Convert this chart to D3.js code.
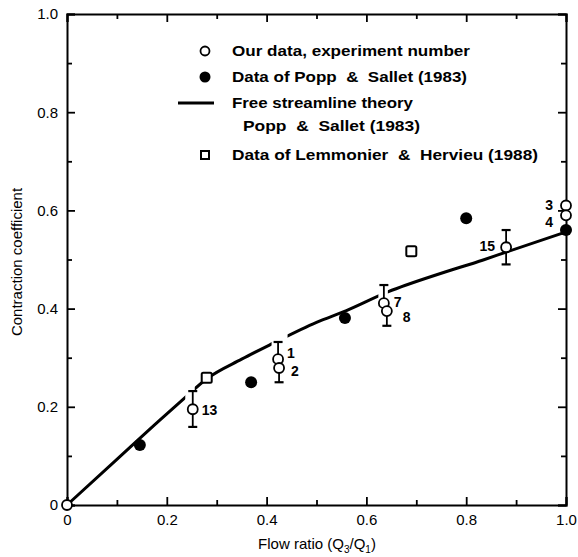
<!DOCTYPE html>
<html>
<head>
<meta charset="utf-8">
<script src="https://cdn.jsdelivr.net/npm/d3@7"></script>
<style>
  body { margin: 0; background: #fff; }
  svg { font-family: "Liberation Sans", Arial, sans-serif; }
</style>
</head>
<body>
<svg id="chart" width="578" height="557"></svg>
<script>
// free streamline theory, Popp & Sallet (1983)
const theoryCurve = [
  [0, 0], [0.1, 0.093], [0.186, 0.173], [0.236, 0.218], [0.28, 0.257],
  [0.35, 0.297], [0.41, 0.328], [0.5, 0.372], [0.56, 0.396], [0.643, 0.434],
  [0.75, 0.472], [0.834, 0.499], [0.88, 0.515], [1.0, 0.556]
];
// where the printed curve is interrupted
const curveGaps = [[0.237, 0.256], [0.41, 0.442], [0.624, 0.643]];

// our data: experiment number, flow ratio, coefficient, error bar ends
const ourLabels = ['', '13', '1', '2', '7', '8', '15', '3', '4'];
const ourX = [0, 0.252, 0.423, 0.425, 0.635, 0.641, 0.88, 1.0, 1.0];
const ourY = [0, 0.195, 0.297, 0.279, 0.411, 0.395, 0.525, 0.61, 0.59];
const ourLo = [null, 0.159, null, 0.25, null, 0.365, 0.49, null, null];
const ourHi = [null, 0.232, 0.332, null, 0.448, null, 0.56, null, null];

const poppX = [0.146, 0.369, 0.557, 0.80, 1.0];
const poppY = [0.122, 0.25, 0.381, 0.584, 0.56];

const lemX = [0.28, 0.69];
const lemY = [0.259, 0.517];

const majorTicks = [0, 0.2, 0.4, 0.6, 0.8, 1.0];
const minorTicks = [0.1, 0.3, 0.5, 0.7, 0.9];
const tickText = ['0', '0.2', '0.4', '0.6', '0.8', '1.0'];

const legendItems = [
  { mark: 'open', text: 'Our data, experiment number' },
  { mark: 'filled', text: 'Data of Popp  \u0026  Sallet (1983)' },
  { mark: 'line', text: 'Free streamline theory' },
  { mark: 'none', text: 'Popp  \u0026  Sallet (1983)' },
  { mark: 'square', text: 'Data of Lemmonier  \u0026  Hervieu (1988)' }
];

const svg = d3.select('#chart');
const x = d3.scaleLinear().domain([0, 1]).range([67, 566]);
const y = d3.scaleLinear().domain([0, 1]).range([505, 14]);
const fmt = d => tickText[majorTicks.indexOf(d)];

function frameAxis(axisFn, scale, pos, withLabels) {
  const g = svg.append('g').attr('transform', pos);
  g.call(axisFn(scale).tickValues(majorTicks).tickSize(-8).tickPadding(9)
    .tickFormat(withLabels ? fmt : ''));
  const m = svg.append('g').attr('transform', pos);
  m.call(axisFn(scale).tickValues(minorTicks).tickSize(-5).tickFormat(''));
  m.select('.domain').remove();
  [g, m].forEach(s => {
    s.selectAll('line').attr('stroke', '#000').attr('stroke-width', 1.8);
    s.select('.domain').attr('stroke', '#000').attr('stroke-width', 2);
  });
  g.selectAll('text').attr('fill', '#000').style('font-size', '15px');
  return g;
}

frameAxis(d3.axisBottom, x, 'translate(0,505)', true);
frameAxis(d3.axisTop, x, 'translate(0,14)', false);
frameAxis(d3.axisLeft, y, 'translate(67,0)', true);
frameAxis(d3.axisRight, y, 'translate(566,0)', false);

// axis titles
const xTitle = svg.append('text')
  .attr('x', 317).attr('y', 549).attr('text-anchor', 'middle')
  .style('font-size', '15px');
xTitle.append('tspan').text('Flow ratio (Q');
xTitle.append('tspan').attr('dy', 4).style('font-size', '10px').text('3');
xTitle.append('tspan').attr('dy', -4).text('/Q');
xTitle.append('tspan').attr('dy', 4).style('font-size', '10px').text('1');
xTitle.append('tspan').attr('dy', -4).text(')');

svg.append('text')
  .attr('transform', 'translate(22,262) rotate(-90)')
  .attr('text-anchor', 'middle')
  .style('font-size', '15px')
  .text('Contraction coefficient');

// theory curve, clipped to leave the printed gaps
const clip = svg.append('clipPath').attr('id', 'curve-clip');
const edges = [0].concat(...curveGaps).concat([1]);
for (let i = 0; i < edges.length; i += 2) {
  clip.append('rect')
    .attr('x', x(edges[i]) - (i === 0 ? 5 : 0))
    .attr('y', 0)
    .attr('width', x(edges[i + 1]) - x(edges[i]) + (i === 0 || i === edges.length - 2 ? 5 : 0))
    .attr('height', 557);
}
svg.append('path')
  .datum(theoryCurve)
  .attr('clip-path', 'url(#curve-clip)')
  .attr('fill', 'none')
  .attr('stroke', '#000')
  .attr('stroke-width', 3)
  .attr('d', d3.line().x(d => x(d[0])).y(d => y(d[1])).curve(d3.curveMonotoneX));

// error bars
const ours = ourX.map((v, i) => ({ x: v, y: ourY[i], lo: ourLo[i], hi: ourHi[i], label: ourLabels[i] }));
const bars = svg.append('g').attr('stroke', '#000');
ours.forEach(d => {
  [d.hi, d.lo].forEach(end => {
    if (end === null) return;
    bars.append('line').attr('x1', x(d.x)).attr('x2', x(d.x))
      .attr('y1', y(d.y)).attr('y2', y(end)).attr('stroke-width', 1.8);
    bars.append('line').attr('x1', x(d.x) - 4.5).attr('x2', x(d.x) + 4.5)
      .attr('y1', y(end)).attr('y2', y(end)).attr('stroke-width', 2.2);
  });
});

// Lemmonier & Hervieu squares
svg.append('g').selectAll('rect')
  .data(lemX.map((v, i) => [v, lemY[i]]))
  .join('rect')
  .attr('x', d => x(d[0]) - 5).attr('y', d => y(d[1]) - 5)
  .attr('width', 10).attr('height', 10).attr('rx', 1.5)
  .attr('fill', '#fff').attr('stroke', '#000').attr('stroke-width', 2);

// Popp & Sallet filled circles
svg.append('g').selectAll('circle')
  .data(poppX.map((v, i) => [v, poppY[i]]))
  .join('circle')
  .attr('cx', d => x(d[0])).attr('cy', d => y(d[1])).attr('r', 6)
  .attr('fill', '#000');

// our data, open circles
svg.append('g').selectAll('circle')
  .data(ours)
  .join('circle')
  .attr('cx', d => x(d.x)).attr('cy', d => y(d.y)).attr('r', 5)
  .attr('fill', '#fff').attr('stroke', '#000').attr('stroke-width', 1.8);

// experiment numbers
const labelOffset = {
  '13': [9, 6, 'start'], '1': [9, -1, 'start'], '2': [12, 8, 'start'],
  '7': [10, 4, 'start'], '8': [16, 11, 'start'], '15': [-11, 4, 'end'],
  '3': [-13, 5, 'end'], '4': [-13, 12, 'end']
};
svg.append('g').selectAll('text')
  .data(ours.filter(d => d.label))
  .join('text')
  .attr('x', d => x(d.x) + labelOffset[d.label][0])
  .attr('y', d => y(d.y) + labelOffset[d.label][1])
  .attr('text-anchor', d => labelOffset[d.label][2])
  .style('font-size', '14px').style('font-weight', 'bold')
  .text(d => d.label);

// legend (the printed lettering is wide, so stretch each line to its width)
const legendY = [51, 77, 103, 126, 155];
const legendWidth = [238, 235, 181, 177, 306];
const legend = svg.append('g');
legendItems.forEach((item, i) => {
  const ly = legendY[i];
  if (item.mark === 'open') {
    legend.append('circle').attr('cx', 205).attr('cy', ly).attr('r', 4.5)
      .attr('fill', '#fff').attr('stroke', '#000').attr('stroke-width', 1.8);
  } else if (item.mark === 'filled') {
    legend.append('circle').attr('cx', 205).attr('cy', ly).attr('r', 5.5).attr('fill', '#000');
  } else if (item.mark === 'line') {
    legend.append('line').attr('x1', 178).attr('x2', 214).attr('y1', ly).attr('y2', ly)
      .attr('stroke', '#000').attr('stroke-width', 3);
  } else if (item.mark === 'square') {
    legend.append('rect').attr('x', 201).attr('y', ly - 4).attr('width', 8).attr('height', 8)
      .attr('fill', '#fff').attr('stroke', '#000').attr('stroke-width', 2);
  }
  legend.append('text')
    .attr('x', item.mark === 'none' ? 243 : 232)
    .attr('y', ly + 5)
    .attr('textLength', legendWidth[i])
    .attr('lengthAdjust', 'spacingAndGlyphs')
    .style('white-space', 'pre')
    .style('font-size', '15px').style('font-weight', 'bold')
    .text(item.text);
});
</script>
</body>
</html>
